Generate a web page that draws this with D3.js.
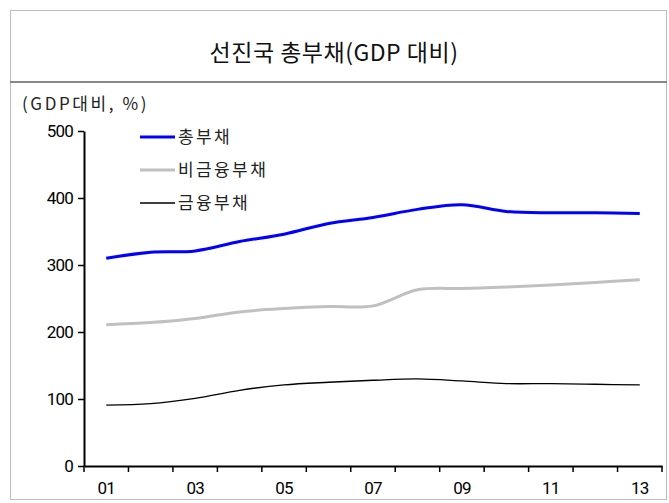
<!DOCTYPE html>
<html><head><meta charset="utf-8">
<script src="https://cdn.jsdelivr.net/npm/d3@7"></script>
<style>
body{margin:0;background:#fff;}
svg{display:block;}
</style></head>
<body>
<svg id="c" width="669" height="503"></svg>
<script>
const years = ["01","02","03","04","05","06","07","08","09","10","11","12","13"];
const totalDebt = [310,319,321,335,346,362,371,383,390,380,378,378,377];
const nonFinDebt = [211,214,220,230,235,238,239,263,265,267,270,274,278];
const finDebt = [91,93,101,113,121,125,128,130,127,123,123,122,121];
const yTicks = [0,100,200,300,400,500];
const xLabels = ["01","03","05","07","09","11","13"];
const seriesNames = ["총부채","비금융부채","금융부채"];

const svg = d3.select("#c");
const numFont = "'Liberation Sans Narrow','Arial Narrow','Roboto','Liberation Sans',sans-serif";
const krFont = "'Noto Sans CJK KR','Noto Sans',sans-serif";

// frame
svg.append("rect").attr("x",10.5).attr("y",10.5).attr("width",656).attr("height",489)
  .attr("fill","none").attr("stroke","#bdbdbd").attr("stroke-width",1);
svg.append("line").attr("x1",10).attr("x2",667).attr("y1",82).attr("y2",82)
  .attr("stroke","#888").attr("stroke-width",2);
svg.append("text").attr("x",334).attr("y",61).attr("text-anchor","middle")
  .attr("font-family",krFont).attr("font-size",23).attr("fill","#111")
  .attr("letter-spacing",0.5)
  .text("선진국 총부채(GDP 대비)");
svg.append("text").attr("x",22).attr("y",110)
  .attr("font-family",krFont).attr("font-size",17).attr("fill","#222")
  .attr("letter-spacing",2.6)
  .text("(GDP대비, %)");

const x = d3.scaleBand().domain(years).range([84,662]);
const y = d3.scaleLinear().domain([0,500]).range([466,131]);
const cx = d => x(d) + x.bandwidth()/2;

// y axis
const ya = svg.append("g").attr("transform","translate(84,0)")
  .call(d3.axisLeft(y).tickValues(yTicks).tickSize(6).tickSizeOuter(0));
ya.select(".domain").attr("stroke","#000").attr("stroke-width",2);
ya.selectAll(".tick line").attr("stroke","#000").attr("stroke-width",1.5);
ya.selectAll(".tick text").attr("font-family",numFont).attr("font-size",17).attr("fill","#000")
  .attr("x",-11).attr("letter-spacing",-0.8);

// x axis
const xa = svg.append("g").attr("transform","translate(0,466)")
  .call(d3.axisBottom(x).tickValues(xLabels).tickSize(0).tickSizeOuter(0).tickPadding(16));
xa.select(".domain").attr("stroke","#000").attr("stroke-width",2);
xa.selectAll(".tick text").attr("font-family",numFont).attr("font-size",17).attr("fill","#000")
  .attr("letter-spacing",-0.8);
const bounds = years.map(d => x(d)).concat([x.range()[1]]);
svg.append("g").selectAll("line").data(bounds).join("line")
  .attr("x1",d=>d).attr("x2",d=>d).attr("y1",466).attr("y2",472)
  .attr("stroke","#000").attr("stroke-width",1.5);

const series = [
  {name:seriesNames[0], values: totalDebt, color:"#0000ff", w:3},
  {name:seriesNames[1], values: nonFinDebt, color:"#c0c0c0", w:3},
  {name:seriesNames[2], values: finDebt, color:"#000", w:1.3}
];
const line = d3.line().x((d,i)=>cx(years[i])).y(d=>y(d)).curve(d3.curveCatmullRom.alpha(0.5));
svg.append("g").selectAll("path").data(series).join("path")
  .attr("d", d=>line(d.values)).attr("fill","none")
  .attr("stroke",d=>d.color).attr("stroke-width",d=>d.w);

// legend
const lg = svg.append("g").selectAll("g").data(series).join("g")
  .attr("transform",(d,i)=>`translate(140,${137 + i*33})`);
lg.append("line").attr("x1",0).attr("x2",35).attr("y1",0).attr("y2",0)
  .attr("stroke",d=>d.color).attr("stroke-width",d=>d.w);
lg.append("text").attr("x",38).attr("y",6).attr("font-family",krFont).attr("font-size",17)
  .attr("fill","#222").attr("letter-spacing",2.4).text(d=>d.name);
</script>
</body></html>
